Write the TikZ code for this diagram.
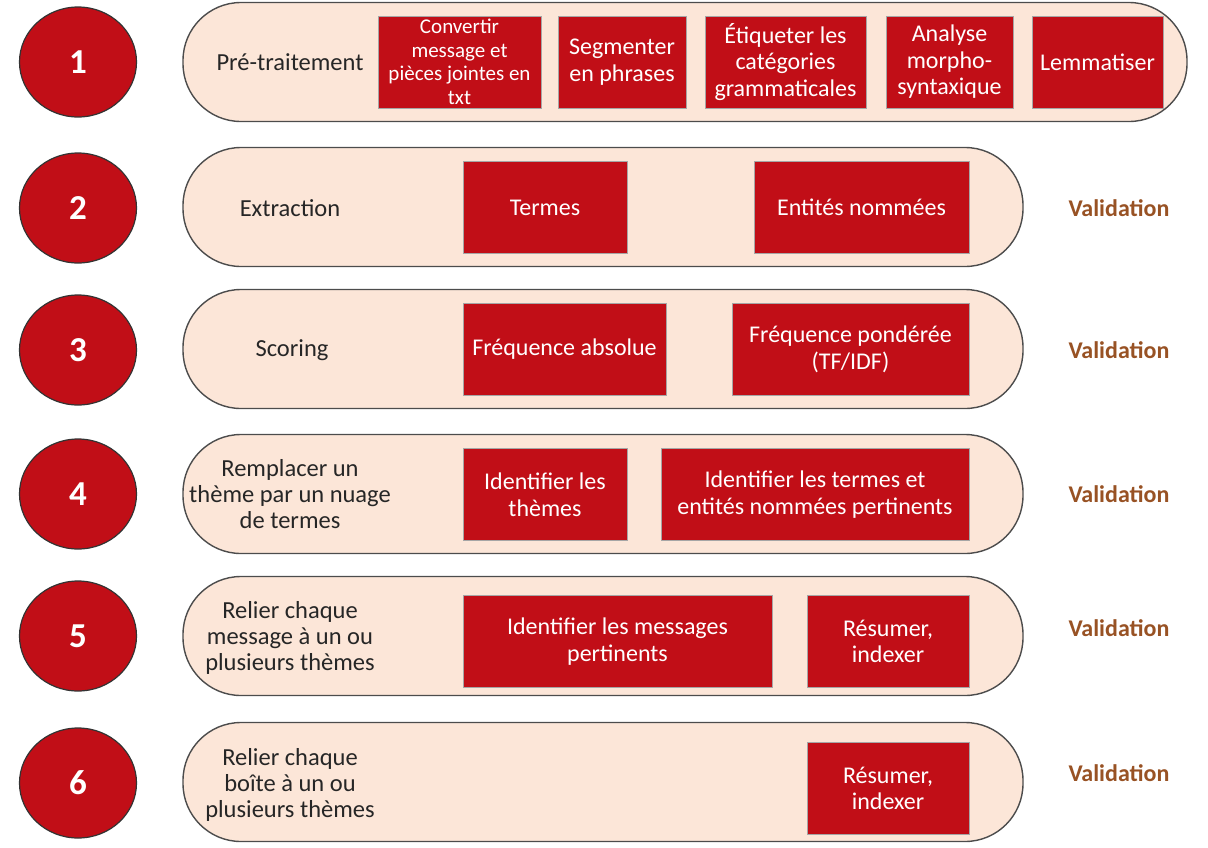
\documentclass[tikz,border=0pt]{standalone}
\usepackage{fontspec}
\setmainfont{Carlito}
\usetikzlibrary{shapes.geometric}
\definecolor{rouge}{HTML}{C10E17}
\definecolor{peche}{HTML}{FCE6D8}
\definecolor{brun}{HTML}{985224}
\definecolor{texte}{HTML}{262626}
\tikzstyle{etape}=[ellipse, draw=black!80, line width=1.2pt, fill=rouge, minimum width=117pt, minimum height=110pt, text=white, font=\fontsize{35}{36}\selectfont\bfseries]
\tikzstyle{bande}=[rectangle, rounded corners=58pt, draw=black!70, line width=1.4pt, fill=peche, minimum height=119pt, inner sep=0pt]
\tikzstyle{tache}=[rectangle, draw=black!35, line width=0.8pt, fill=rouge, text=white, align=center, inner sep=0pt, minimum height=92pt, font=\fontsize{24}{26.5}\selectfont]
\tikzstyle{titre}=[align=center, text=texte, font=\fontsize{24.5}{26}\selectfont]
\tikzstyle{valid}=[text=brun, font=\fontsize{24}{26}\selectfont\bfseries]

\begin{document}
\begin{tikzpicture}[x=1pt,y=-1pt]
            \useasboundingbox (0,0) rectangle (1208,847);
            % Étapes
            \node[etape] (e1) at (78,62) {1};
            \node[etape] (e2) at (78,208) {2};
            \node[etape] (e3) at (78,350) {3};
            \node[etape] (e4) at (78,494) {4};
            \node[etape] (e5) at (78,636) {5};
            \node[etape] (e6) at (78,783) {6};
            % Bandes
            \node[bande, minimum width=1004pt] (b1) at (685,62) {};
            \node[bande, minimum width=840pt] (b2) at (603,207) {};
            \node[bande, minimum width=840pt] (b3) at (603,349) {};
            \node[bande, minimum width=840pt] (b4) at (603,494) {};
            \node[bande, minimum width=840pt] (b5) at (603,636) {};
            \node[bande, minimum width=840pt] (b6) at (603,782) {};
            % Titres
            \node[titre] (t1) at (290,62) {Pré-traitement};
            \node[titre] (t2) at (290,208) {Extraction};
            \node[titre] (t3) at (292,350) {Scoring};
            \node[titre] (t4) at (290,494) {Remplacer un\\thème par un nuage\\de termes};
            \node[titre] (t5) at (290,638) {Relier chaque\\message à un ou\\plusieurs thèmes};
            \node[titre] (t6) at (290,785) {Relier chaque\\boîte à un ou\\plusieurs thèmes};
            % Tâches
            \node[tache, minimum width=163pt, font=\fontsize{21}{23.5}\selectfont] (convertir) at (459.5,62) {Convertir\\message et\\pièces jointes en\\txt};
            \node[tache, minimum width=128pt] (segmenter) at (622,62) {Segmenter\\en phrases};
            \node[tache, minimum width=161pt] (etiqueter) at (785.5,62) {Étiqueter les\\catégories\\grammaticales};
            \node[tache, minimum width=127pt] (analyse) at (949.5,62) {Analyse\\morpho-\\syntaxique};
            \node[tache, minimum width=131pt] (lemme) at (1097.5,62) {Lemmatiser};
            \node[tache, minimum width=164pt] (termes) at (545,207.5) {Termes};
            \node[tache, minimum width=215pt] (entites) at (861.5,207.5) {Entités nommées};
            \node[tache, minimum width=203pt] (absolue) at (564.5,349.5) {Fréquence absolue};
            \node[tache, minimum width=237pt] (ponderee) at (850.5,349.5) {Fréquence pondérée\\(TF/IDF)};
            \node[tache, minimum width=164pt] (themes) at (545,494.5) {Identifier les\\thèmes};
            \node[tache, minimum width=308pt] (pertinents) at (815,494.5) {Identifier les termes et\\entités nommées pertinents};
            \node[tache, minimum width=309pt] (messages) at (617.5,641.5) {Identifier les messages\\pertinents};
            \node[tache, minimum width=162pt] (resumer5) at (888,641.5) {Résumer,\\indexer};
            \node[tache, minimum width=162pt] (resumer6) at (888,788.5) {Résumer,\\indexer};
            % Validation
            \node[valid] (v2) at (1119,208) {Validation};
            \node[valid] (v3) at (1119,350) {Validation};
            \node[valid] (v4) at (1119,494) {Validation};
            \node[valid] (v5) at (1119,628) {Validation};
            \node[valid] (v6) at (1119,773) {Validation};
        \end{tikzpicture}
\end{document}
